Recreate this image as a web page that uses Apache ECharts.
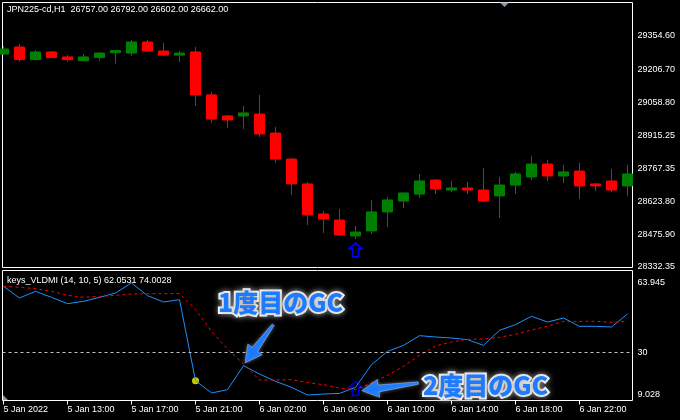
<!DOCTYPE html>
<html><head><meta charset="utf-8">
<script src="https://cdn.jsdelivr.net/npm/echarts@6/dist/echarts.min.js"></script>
<style>html,body{margin:0;padding:0;background:#000;}#c{width:680px;height:420px;}</style>
</head><body><div id="c"></div>
<script>
// ---- data ----
const opens  = [29275,29306,29250,29284,29262,29245,29259,29281,29279,29328,29288,29270,29284,29094,29001,29001,29009,28925,28810,28700,28567,28540,28470,28492,28576,28624,28655,28717,28673,28682,28673,28647,28695,28731,28788,28735,28757,28700,28713,28691];
const highs  = [29310,29319,29293,29288,29270,29275,29284,29293,29337,29337,29324,29288,29306,29107,29005,29045,29094,28952,28815,28709,28580,28589,28514,28629,28642,28662,28744,28722,28713,28709,28771,28731,28753,28824,28806,28784,28793,28704,28766,28784];
const lows   = [29272,29241,29245,29257,29241,29244,29245,29232,29267,29284,29268,29240,29045,28970,28948,28943,28908,28793,28651,28518,28483,28470,28456,28478,28509,28593,28638,28655,28664,28655,28620,28549,28655,28717,28713,28704,28633,28669,28664,28647];
const closes = [29297,29250,29284,29259,29250,29262,29279,29290,29328,29288,29270,29279,29094,28987,28983,29014,28921,28810,28700,28563,28545,28474,28487,28576,28629,28660,28713,28678,28682,28673,28624,28695,28744,28788,28735,28753,28691,28691,28673,28744];
const mainLine   = [62.31,56.59,59.86,56.92,53.81,54.96,56.92,59.04,63.945,57.74,54.63,55.77,16.06,10.01,11.65,23.42,19.33,15.73,12.79,9.028,9.5,9.8,12.79,23.91,30.44,33.38,38.12,37.47,36.98,36.16,33.38,40.74,43.52,47.60,44.82,46.79,42.70,42.70,42.37,48.75];
const signalLine = [62.31,61.82,61.17,59.86,57.90,56.92,57.41,57.90,58.55,58.72,58.72,58.72,50.87,40.25,31.59,24.23,16.39,16.39,16.55,15.08,14.10,12.47,11.65,14.92,18.68,23.09,28.48,33.06,35.02,36.33,36.49,37.31,38.78,40.90,42.70,45.15,45.15,45.15,44.66,45.15];
const timeLabelIdx = [0,4,8,12,16,20,24,28,32,36];
const timeLabels = ['5 Jan 2022','5 Jan 13:00','5 Jan 17:00','5 Jan 21:00','6 Jan 02:00','6 Jan 06:00','6 Jan 10:00','6 Jan 14:00','6 Jan 18:00','6 Jan 22:00'];
const priceTicks = [29354.60,29206.70,29058.80,28915.25,28767.35,28623.80,28475.90,28332.35];
const levelTicks = [63.945,30,9.028];
const levelLine = 30;
const yellowIdx = 12;
const gcIdx = 22;
const gcArrowPrice = 28408;
const gcArrowLevel = 12.3;
// annotation arrows: [tailX, tailY, tipX, tipY] in data units
const annoArrows = [[16.86,43.5,15.09,24.72],[25.93,14.915,22.39,11.14]];
const titleText = 'JPN225-cd,H1  26757.00 26792.00 26602.00 26662.00';
const indText = 'keys_VLDMI (14, 10, 5) 62.0531 74.0028';

// ---- chart ----
const FONT = '"Liberation Sans", Arial, sans-serif';
const arrowPath = 'path://M6.5,0 L13,6 L9.5,6 L9.5,14 L3.5,14 L3.5,6 L0,6 Z';
const chart = echarts.init(document.getElementById('c'), null, {renderer:'canvas'});
const xMin = -0.0625, xMax = 39.3125;

chart.setOption({
  backgroundColor:'#000',
  animation:false,
  grid:[
    {left:2.5, top:2.5, width:630, height:265, show:true, borderColor:'#fff', borderWidth:1, backgroundColor:'transparent'},
    {left:2.5, top:270.5, width:630, height:130, show:true, borderColor:'#fff', borderWidth:1, backgroundColor:'transparent'}
  ],
  xAxis:[
    {gridIndex:0, type:'value', min:xMin, max:xMax, show:false},
    {gridIndex:1, type:'value', min:xMin, max:xMax, position:'bottom',
     axisLine:{show:false, onZero:false}, splitLine:{show:false},
     axisTick:{show:true, customValues:timeLabelIdx, length:4, lineStyle:{color:'#fff'}},
     axisLabel:{customValues:timeLabelIdx, formatter:v=>timeLabels[timeLabelIdx.indexOf(Math.round(v))],
       color:'#fff', fontSize:9, fontFamily:FONT, align:'left', margin:5}}
  ],
  yAxis:[
    {gridIndex:0, type:'value', position:'right', min:28330.1, max:29502.85,
     splitLine:{show:false}, axisLine:{show:false, onZero:false}, axisTick:{show:false},
     axisLabel:{customValues:priceTicks, formatter:v=>v.toFixed(2), color:'#fff', fontSize:9, fontFamily:FONT, margin:5}},
    {gridIndex:1, type:'value', position:'right', min:6.334, max:70.07,
     splitLine:{show:false}, axisLine:{show:false, onZero:false}, axisTick:{show:false},
     axisLabel:{customValues:levelTicks, formatter:v=>String(v), color:'#fff', fontSize:9, fontFamily:FONT, margin:5}}
  ],
  series:[
    {type:'candlestick', xAxisIndex:0, yAxisIndex:0, barWidth:10,
     encode:{x:0, y:[1,2,3,4]},
     data:opens.map((o,i)=>[i,o,closes[i],lows[i],highs[i]]),
     itemStyle:{color:'#008000', color0:'#ff0000', borderColor:'#008000', borderColor0:'#ff0000', borderWidth:1},
     markPoint:{silent:true, symbol:arrowPath, symbolSize:[13,14], label:{show:false},
       itemStyle:{color:'transparent', borderColor:'#0000ff', borderWidth:1.6},
       data:[{coord:[gcIdx, gcArrowPrice]}]}
    },
    {type:'line', xAxisIndex:1, yAxisIndex:1, showSymbol:false, symbol:'none',
     data:mainLine.map((v,i)=>[i,v]),
     lineStyle:{color:'#1e90ff', width:1},
     markLine:{silent:true, symbol:'none', label:{show:false},
       lineStyle:{color:'#c0c0c0', type:[3,3], width:1},
       data:[{yAxis:levelLine}]}
    },
    {type:'line', xAxisIndex:1, yAxisIndex:1, showSymbol:false, symbol:'none',
     data:signalLine.map((v,i)=>[i,v]),
     lineStyle:{color:'#ff0000', type:[3,3], width:1}
    },
    {type:'scatter', xAxisIndex:1, yAxisIndex:1, symbolSize:7,
     data:[[yellowIdx, mainLine[yellowIdx]]], itemStyle:{color:'#ffff00'}},
    {type:'scatter', xAxisIndex:1, yAxisIndex:1, symbol:arrowPath, symbolSize:[13,14],
     data:[[gcIdx, gcArrowLevel]], itemStyle:{color:'transparent', borderColor:'#0000ff', borderWidth:1.6}},
    {type:'custom', xAxisIndex:1, yAxisIndex:1, encode:{x:[0,2], y:[1,3]}, clip:false, z:10,
     data:annoArrows,
     renderItem:function(params, api){
       const t = api.coord([api.value(0), api.value(1)]);
       const p = api.coord([api.value(2), api.value(3)]);
       const dx = p[0]-t[0], dy = p[1]-t[1];
       const len = Math.sqrt(dx*dx+dy*dy);
       const ux = dx/len, uy = dy/len, nx = -uy, ny = ux;
       const headL = 17, headW = 9, shaftW = 3.5, tailW = 1.2;
       const b = [p[0]-ux*headL, p[1]-uy*headL];
       const pts = [
         [t[0]+nx*tailW, t[1]+ny*tailW],
         [b[0]+nx*shaftW, b[1]+ny*shaftW],
         [b[0]+nx*headW, b[1]+ny*headW],
         [p[0], p[1]],
         [b[0]-nx*headW, b[1]-ny*headW],
         [b[0]-nx*shaftW, b[1]-ny*shaftW],
         [t[0]-nx*tailW, t[1]-ny*tailW]
       ];
       return {type:'polygon', shape:{points:pts},
         style:{fill:'#1e7bff', stroke:'rgba(255,255,255,0.3)', lineWidth:1,
                shadowBlur:4, shadowColor:'rgba(200,200,200,0.5)'}};
     }
    }
  ],
  graphic:[
    {type:'text', left:7, top:5, silent:true, style:{text:titleText, fill:'#fff', font:'9px '+FONT}},
    {type:'text', left:7, top:276, silent:true, style:{text:indText, fill:'#fff', font:'9px '+FONT}},
    {type:'polygon', silent:true, shape:{points:[[500,2.5],[509,2.5],[504.5,7]]}, style:{fill:'#8a99a8'}},
    {type:'polygon', silent:true, shape:{points:[[3,395],[3,400],[8,400]]}, style:{fill:'#8a99a8'}},
    {type:'text', x:218, y:302, silent:true, z:100,
     style:{text:'1度目のGC', fill:'#1e7bff', stroke:'#ffffff', lineWidth:4, verticalAlign:'middle',
       font:'900 25px "Noto Sans CJK JP", sans-serif', textShadowColor:'rgba(150,150,150,0.9)', textShadowBlur:6}},
    {type:'text', x:423, y:385, silent:true, z:100,
     style:{text:'2度目のGC', fill:'#1e7bff', stroke:'#ffffff', lineWidth:4, verticalAlign:'middle',
       font:'900 25px "Noto Sans CJK JP", sans-serif', textShadowColor:'rgba(150,150,150,0.9)', textShadowBlur:6}}
  ]
});
</script></body></html>
